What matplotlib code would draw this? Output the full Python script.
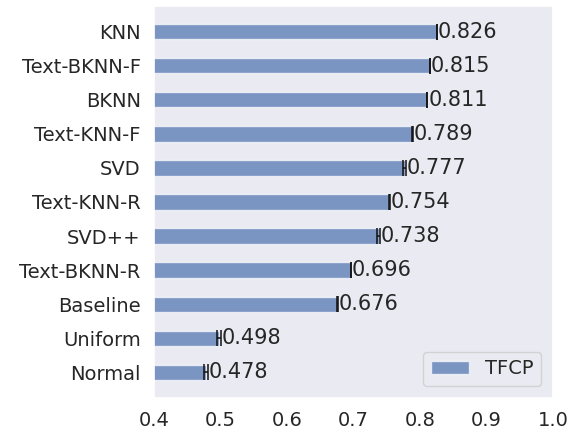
import matplotlib
matplotlib.use("Agg")
import matplotlib.pyplot as plt
import seaborn as sns
import numpy as np

sns.set_theme(style="dark")
plt.rcParams['font.family'] = ['DejaVu Sans']

methods = ["KNN", "Text-BKNN-F", "BKNN", "Text-KNN-F", "SVD", "Text-KNN-R",
           "SVD++", "Text-BKNN-R", "Baseline", "Uniform", "Normal"]
values = [0.826, 0.815, 0.811, 0.789, 0.777, 0.754, 0.738, 0.696, 0.676, 0.498, 0.478]
errors = [0.0003, 0.0003, 0.0003, 0.0003, 0.0018, 0.0003, 0.002, 0.0003, 0.0003, 0.003, 0.003]

fig = plt.figure(figsize=(5.79, 4.33), dpi=100)
ax = fig.add_axes([0.266, 0.081, 0.689, 0.905])

y = np.arange(len(methods))[::-1]
ax.barh(y, values, height=0.45, xerr=errors, color="#4C72B0", alpha=0.7,
        error_kw=dict(ecolor="#111111", capsize=5.5, elinewidth=1.1, capthick=1.1),
        label="TFCP")
for yi, v, e in zip(y, values, errors):
    ax.text(v + e + 0.001, yi, f"{v:.3f}", va="center", ha="left", fontsize=15, color="#262626")

ax.set_yticks(y)
ax.set_yticklabels(methods, fontsize=14)
ax.set_xlim(0.4, 1.0)
ax.set_ylim(-0.75, len(methods) - 0.25)
ax.set_xticks([0.4, 0.5, 0.6, 0.7, 0.8, 0.9, 1.0])
ax.set_xticklabels(["0.4", "0.5", "0.6", "0.7", "0.8", "0.9", "1.0"], fontsize=14)
ax.legend(loc="lower right", fontsize=14, borderaxespad=0.6)

fig.savefig("out.png", dpi=100)
